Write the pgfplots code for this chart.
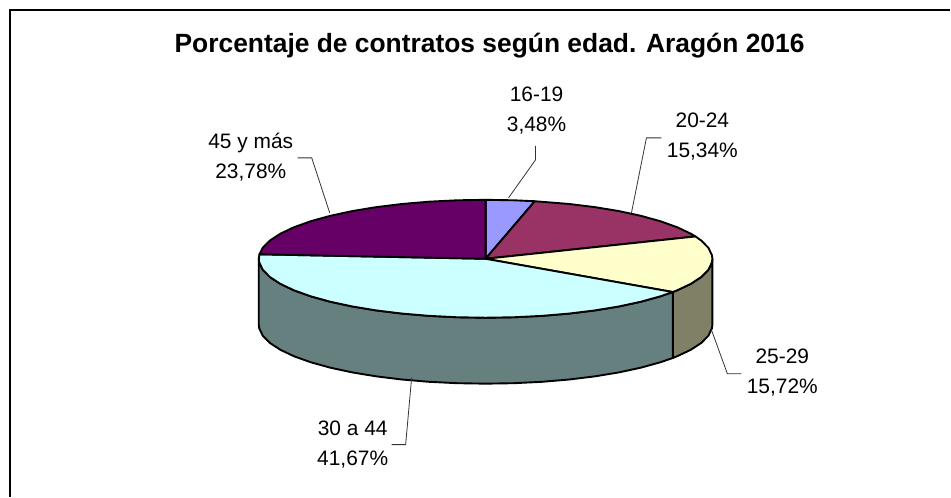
\documentclass[border=0pt]{standalone}
\usepackage{pgfplots}
\usepackage{pgfplotstable}
\usepackage{fontspec}
\setmainfont{Liberation Sans}
\pgfplotsset{compat=1.18}
\definecolor{c1}{HTML}{9999FF}
\definecolor{c2}{HTML}{993366}
\definecolor{c3}{HTML}{FFFFCC}
\definecolor{c4}{HTML}{CCFFFF}
\definecolor{c5}{HTML}{660066}
\definecolor{s3}{HTML}{808066}
\definecolor{s4}{HTML}{668080}
\tikzset{lab/.style={font=\fontsize{21}{30}\selectfont, align=center, inner sep=0pt, text=black}}
% p = cumulative percentage round the pie, r = radius (0 centre, 1 rim)
\pgfplotstableread[row sep=\\]{p r\\ 0 0\\ 0 1\\ 2 1\\ 3.48 1\\ 3.48 0\\}\topA
\pgfplotstableread[row sep=\\]{p r\\ 3.48 0\\ 3.48 1\\ 6 1\\ 8 1\\ 10 1\\ 12 1\\ 14 1\\ 16 1\\ 18 1\\ 18.82 1\\ 18.82 0\\}\topB
\pgfplotstableread[row sep=\\]{p r\\ 18.82 0\\ 18.82 1\\ 20 1\\ 22 1\\ 24 1\\ 25 1\\ 26 1\\ 28 1\\ 30 1\\ 32 1\\ 34 1\\ 34.54 1\\ 34.54 0\\}\topC
\pgfplotstableread[row sep=\\]{p r\\ 34.54 0\\ 34.54 1\\ 36 1\\ 38 1\\ 40 1\\ 42 1\\ 44 1\\ 46 1\\ 48 1\\ 50 1\\ 52 1\\ 54 1\\ 56 1\\ 58 1\\ 60 1\\ 62 1\\ 64 1\\ 66 1\\ 68 1\\ 70 1\\ 72 1\\ 74 1\\ 75 1\\ 76.21 1\\ 76.21 0\\}\topD
\pgfplotstableread[row sep=\\]{p r\\ 76.21 0\\ 76.21 1\\ 78 1\\ 80 1\\ 82 1\\ 84 1\\ 86 1\\ 88 1\\ 90 1\\ 92 1\\ 94 1\\ 96 1\\ 98 1\\ 100 1\\ 100 0\\}\topE
% side walls: z = 0 upper rim, z = 1 lower rim
\pgfplotstableread[row sep=\\]{p z\\ 25 0\\ 26 0\\ 28 0\\ 30 0\\ 32 0\\ 34 0\\ 34.54 0\\ 34.54 1\\ 34 1\\ 32 1\\ 30 1\\ 28 1\\ 26 1\\ 25 1\\}\sideC
\pgfplotstableread[row sep=\\]{p z\\ 34.54 0\\ 36 0\\ 38 0\\ 40 0\\ 42 0\\ 44 0\\ 46 0\\ 48 0\\ 50 0\\ 52 0\\ 54 0\\ 56 0\\ 58 0\\ 60 0\\ 62 0\\ 64 0\\ 66 0\\ 68 0\\ 70 0\\ 72 0\\ 74 0\\ 75 0\\ 75 1\\ 74 1\\ 72 1\\ 70 1\\ 68 1\\ 66 1\\ 64 1\\ 62 1\\ 60 1\\ 58 1\\ 56 1\\ 54 1\\ 52 1\\ 50 1\\ 48 1\\ 46 1\\ 44 1\\ 42 1\\ 40 1\\ 38 1\\ 36 1\\ 34.54 1\\}\sideD
\newcommand{\cx}{486}\newcommand{\cy}{259}\newcommand{\rx}{227}\newcommand{\ry}{59}\newcommand{\dz}{66}
\newcommand{\topwedge}[2]{\addplot[fill=#1,draw=black,line width=1.9pt,line join=round] table[x expr={\cx+\rx*\thisrow{r}*sin(3.6*\thisrow{p})},y expr={\cy-\ry*\thisrow{r}*cos(3.6*\thisrow{p})}] {#2} -- cycle;}
\newcommand{\sidewall}[2]{\addplot[fill=#1,draw=black,line width=1.9pt,line join=round] table[x expr={\cx+\rx*sin(3.6*\thisrow{p})},y expr={\cy-\ry*cos(3.6*\thisrow{p})+\dz*\thisrow{z}}] {#2} -- cycle;}
\begin{document}
\begin{tikzpicture}
\begin{axis}[
  scale only axis, width=951bp, height=497bp,
  xmin=0, xmax=951, ymin=0, ymax=497, y dir=reverse,
  hide axis, clip=false,
  axis background/.style={fill=white},
  every axis plot/.append style={mark=none},
]
% frame (top and left only)
\addplot[black, line width=1.7pt] coordinates {(10,497) (10,10) (951,10)};
\sidewall{s3}{\sideC}
\sidewall{s4}{\sideD}
\topwedge{c1}{\topA}
\topwedge{c2}{\topB}
\topwedge{c3}{\topC}
\topwedge{c4}{\topD}
\topwedge{c5}{\topE}
% leader lines
\addplot[black!80, line width=0.8pt] coordinates {(536,146) (536,160) (509,198)};
\addplot[black!80, line width=0.8pt] coordinates {(662,138) (647,138) (632,213)};
\addplot[black!80, line width=0.8pt] coordinates {(298,158) (312,158) (330,213)};
\addplot[black!80, line width=0.8pt] coordinates {(712,330) (728,374) (742,374)};
\addplot[black!80, line width=0.8pt] coordinates {(412,378) (406,445) (392,445)};
% labels
\node[lab] at (axis cs:537,111) {16-19\\3,48\%};
\node[lab] at (axis cs:703,137) {20-24\\15,34\%};
\node[lab] at (axis cs:783,372.5) {25-29\\15,72\%};
\node[lab] at (axis cs:353,444.5) {30 a 44\\41,67\%};
\node[lab] at (axis cs:251,157.5) {45 y más\\23,78\%};
\node[font=\fontsize{26.5}{30}\selectfont\bfseries, inner sep=0pt] at (axis cs:490,46) {Porcentaje de contratos según edad. Aragón 2016};
\end{axis}
\end{tikzpicture}
\end{document}
